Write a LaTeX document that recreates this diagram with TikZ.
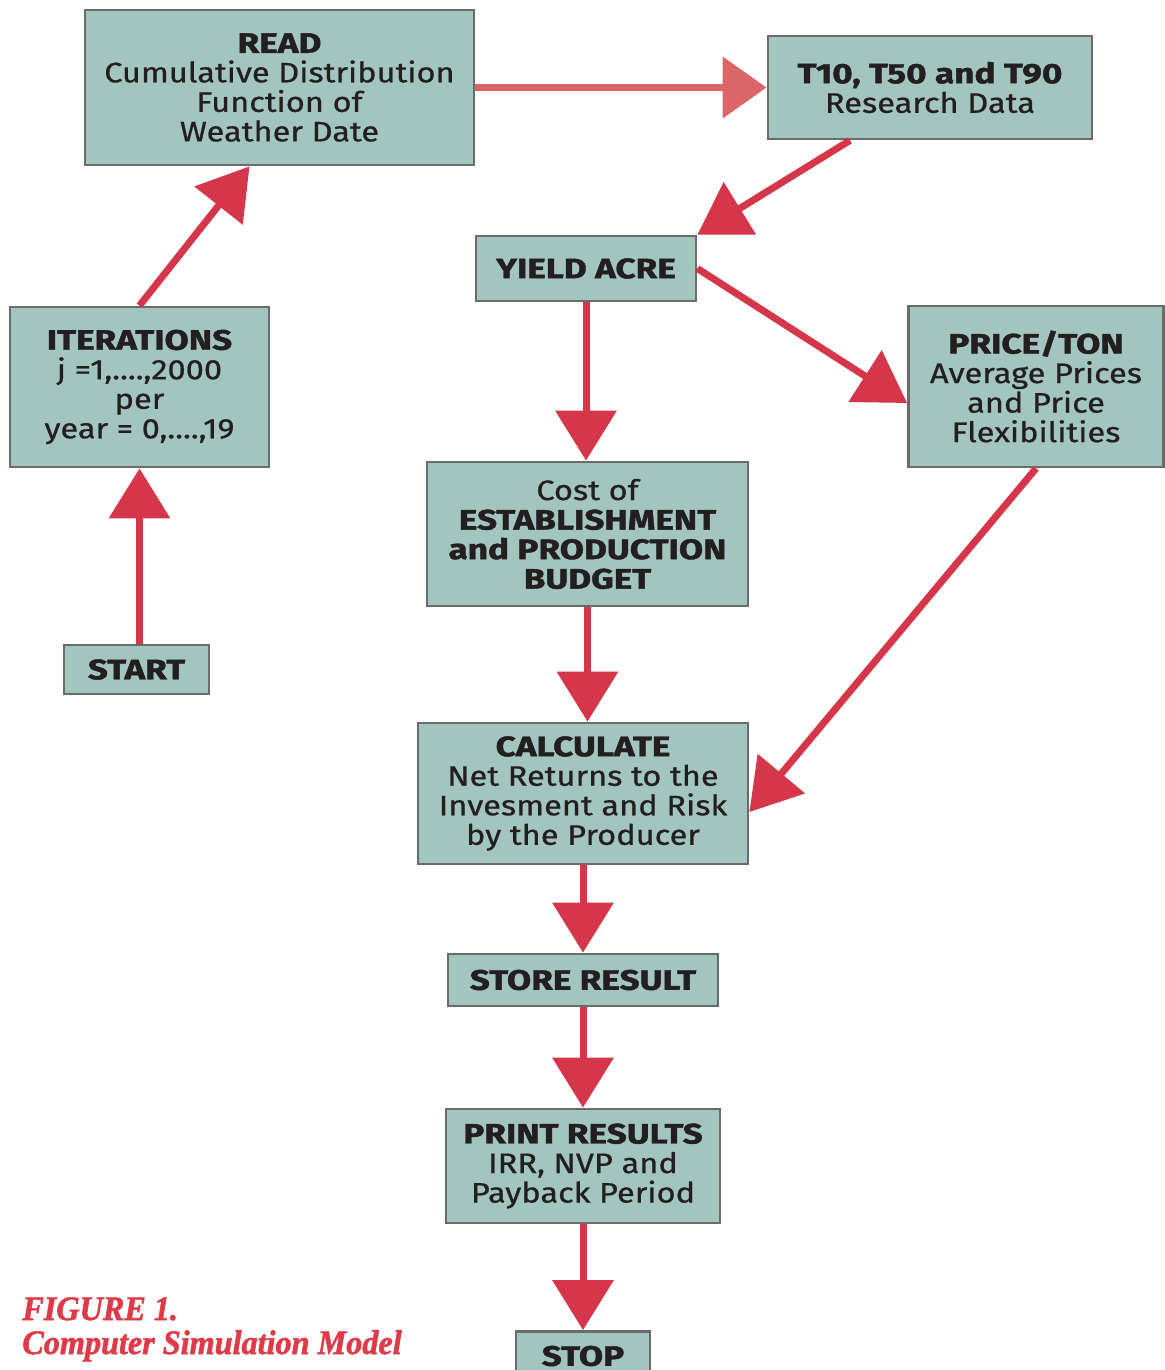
\documentclass[tikz,border=0pt]{standalone}
\usepackage{fontspec}
\setmainfont{Fira Sans}[UprightFeatures={FakeBold=0.7,FakeStretch=1.16},BoldFeatures={FakeBold=1.5,FakeStretch=1.25}]
\newfontfamily\capfont{Liberation Serif}[BoldItalicFeatures={FakeBold=1.5,FakeStretch=0.94}]
\usetikzlibrary{arrows.meta}
\definecolor{boxfill}{HTML}{A3C5BF}
\definecolor{boxline}{HTML}{6B6B6B}
\definecolor{arrred}{HTML}{D5364A}
\definecolor{arrpink}{HTML}{DC6568}
\definecolor{captred}{HTML}{E03A48}
\definecolor{inktext}{HTML}{231F20}
\begin{document}
\begin{tikzpicture}[x=0.02cm,y=-0.02cm,
    flowbox/.style={draw=boxline,line width=1.6pt,fill=boxfill,align=center,
      inner sep=0pt,text=inktext,font=\fontsize{16}{16.8}\selectfont},
    arr/.style={draw=arrred,line width=0.14cm,-{Triangle[length=1.0cm,width=1.2cm]}},
    arrlight/.style={draw=arrpink,line width=0.15cm,-{Triangle[length=0.88cm,width=1.2cm]}}]
  \useasboundingbox (0,0) rectangle (1165,1370);
  % boxes
  \node[flowbox,minimum width=7.78cm,minimum height=3.1cm] (read) at (279.5,87.5)
    {\textbf{READ}\\Cumulative Distribution\\Function of\\Weather Date};
  \node[flowbox,minimum width=6.48cm,minimum height=2.06cm] (resdata) at (930,87.5)
    {\textbf{T10, T50 and T90}\\Research Data};
  \node[flowbox,minimum width=4.4cm,minimum height=1.3cm] (yield) at (586,268.5)
    {\textbf{YIELD ACRE}};
  \node[flowbox,minimum width=5.1cm,minimum height=3.22cm] (price) at (1036,386.5)
    {\textbf{PRICE/TON}\\Average Prices\\and Price\\Flexibilities};
  \node[flowbox,minimum width=5.18cm,minimum height=3.2cm] (iter) at (139.5,387)
    {\textbf{ITERATIONS}\\j =1,....,2000\\per\\year = 0,....,19};
  \node[flowbox,minimum width=6.42cm,minimum height=2.88cm] (budget) at (587.5,534)
    {Cost of\\\textbf{ESTABLISHMENT}\\\textbf{and PRODUCTION}\\\textbf{BUDGET}};
  \node[flowbox,minimum width=2.9cm,minimum height=0.98cm] (start) at (136.5,669.5)
    {\textbf{START}};
  \node[flowbox,minimum width=6.6cm,minimum height=2.82cm] (calc) at (583,793.5)
    {\textbf{CALCULATE}\\Net Returns to the\\Invesment and Risk\\by the Producer};
  \node[flowbox,minimum width=5.4cm,minimum height=1.04cm] (store) at (583,980)
    {\textbf{STORE RESULT}};
  \node[flowbox,minimum width=5.48cm,minimum height=2.28cm] (print) at (583,1166)
    {\textbf{PRINT RESULTS}\\IRR, NVP and\\Payback Period};
  \node[flowbox,minimum width=2.68cm,minimum height=0.98cm] (stop) at (583,1356)
    {\textbf{STOP}};
  % arrows
  \draw[arr] (start.north -| iter.south) -- (iter.south);
  \draw[arr] (iter.north) -- ([xshift=-0.6cm]read.south);
  \draw[arrlight] (read.east) -- (resdata.west);
  \draw[arr] ([xshift=-1.6cm]resdata.south) -- (yield.north east);
  \draw[arr] (yield.east) -- ([yshift=-0.33cm]price.west);
  \draw[arr] (yield.south) -- (yield.south |- budget.north);
  \draw[arr] (price.south) -- ([yshift=-0.37cm]calc.east);
  \draw[arr] (budget.south) -- (budget.south |- calc.north);
  \draw[arr] (calc.south) -- (store.north);
  \draw[arr] (store.south) -- (print.north);
  \draw[arr] (print.south) -- (stop.north);
  % caption
  \node[anchor=base west,inner sep=0pt,text=captred,font=\capfont\bfseries\itshape\fontsize{19.5}{22}\selectfont] (figno) at (22,1320) {FIGURE 1.};
  \node[anchor=base west,inner sep=0pt,text=captred,font=\capfont\bfseries\itshape\fontsize{19.5}{22}\selectfont] (figtitle) at (22,1354) {Computer Simulation Model};
\end{tikzpicture}
\end{document}
